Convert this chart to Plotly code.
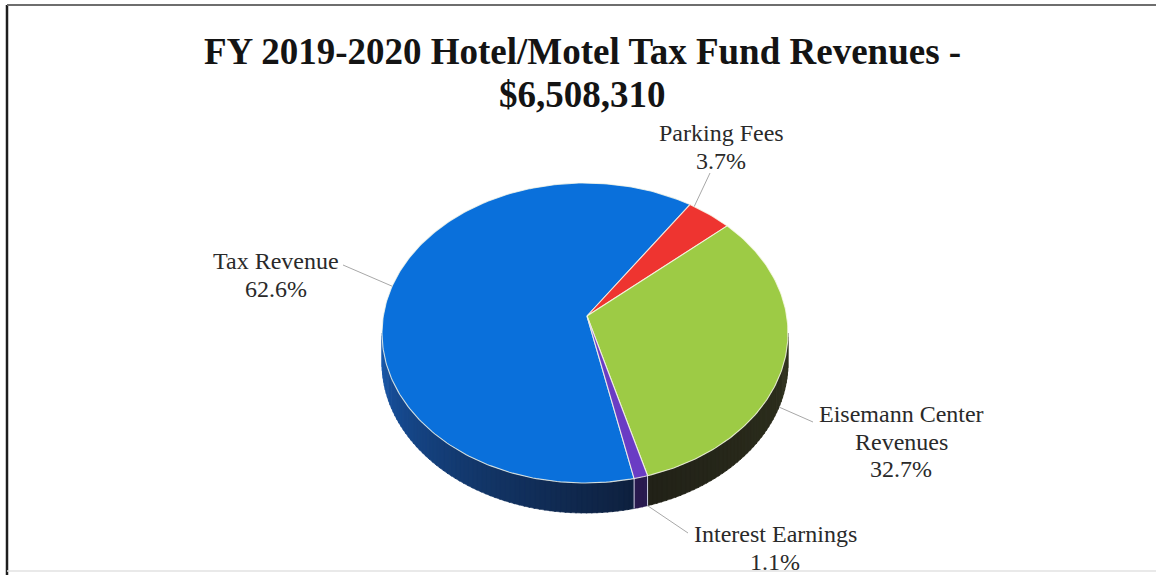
import numpy as np
import plotly.graph_objects as go

# ---- data ----
categories = ["Tax Revenue", "Parking Fees", "Eisemann Center Revenues", "Interest Earnings"]
percent = [62.6, 3.7, 32.7, 1.1]
title_line1 = "FY 2019-2020 Hotel/Motel Tax Fund Revenues -"
title_line2 = "$6,508,310"

# ---- styling ----
top_colors = ["#0a70db", "#ee3430", "#9dcb45", "#6a3cc4"]
# side shading: (colour near the lit end, colour near the shaded end)
side_colors = [
    ((26, 92, 178), (14, 32, 62)),
    ((150, 30, 28), (110, 20, 18)),
    ((50, 52, 31), (32, 32, 23)),
    ((52, 34, 100), (40, 26, 78)),
]
# how each category name wraps in its label
label_wrap = [["Tax Revenue"], ["Parking Fees"], ["Eisemann Center", "Revenues"], ["Interest Earnings"]]
label_x = [276, 721, 901, 775]
label_top = [261, 133, 414, 534]   # centre of first text line
LINE_GAP = 27.5
leader_start = [(343, 265), (710, 173), (813, 422), (688, 533)]

W, H = 1156, 575
CX, CY = 585, 333          # ellipse centre of the top face
RX, RY = 203, 150          # ellipse radii
DEPTH = 30                 # thickness of the pie
APEX = (587, 316)          # projected centre of the pie
START = 166                # angle of first slice, clockwise from 12 o'clock
SERIF = "Liberation Serif, Times New Roman, serif"


def edge(a, drop=0.0):
    r = np.radians(a)
    return CX + RX * np.sin(r), CY - RY * np.cos(r) + drop


def outline_point(a):
    """Visible outer edge: bottom rim on the front half, top rim at the back."""
    front = 90 < (a % 360) < 270
    return edge(a, DEPTH if front else 0)


def lerp(c1, c2, t):
    return "rgb({},{},{})".format(*[int(round(p + (q - p) * t)) for p, q in zip(c1, c2)])


total = sum(percent)
bounds = [START]
for v in percent:
    bounds.append(bounds[-1] + 360.0 * v / total)

fig = go.Figure()

# ---- front side walls (visible between 3 o'clock and 9 o'clock) ----
for i in range(len(percent)):
    a1, a2 = bounds[i], bounds[i + 1]
    for off in (0, 360):
        lo, hi = max(a1, 90 + off), min(a2, 270 + off)
        if hi <= lo:
            continue
        n = max(2, int(np.ceil((hi - lo) / 1.5)) + 1)
        angs = np.linspace(lo, hi, n)
        for k in range(n - 1):
            s, e = angs[k], min(angs[k + 1] + 0.4, hi)
            mid = 0.5 * (s + e) - off
            # lit from the left: 270 deg brightest, 90 deg darkest
            if i == 0:
                t = (270 - mid) / (270 - 166)
            else:
                t = (mid - 90) / 80.0
            t = float(np.clip(t, 0, 1)) ** 0.8
            col = lerp(side_colors[i][0], side_colors[i][1], t)
            arc = np.linspace(s, e, 4)
            tx, ty = edge(arc)
            bx, by = edge(arc[::-1], DEPTH)
            fig.add_trace(go.Scatter(
                x=list(tx) + list(bx) + [tx[0]],
                y=list(ty) + list(by) + [ty[0]],
                mode="lines", fill="toself", fillcolor=col,
                line=dict(color=col, width=0.6), hoverinfo="skip", showlegend=False))

# light seams on the side wall at slice boundaries
for b in bounds[1:]:
    bb = b % 360
    if 90 < bb < 270:
        x0, y0 = edge(bb)
        x1, y1 = edge(bb, DEPTH)
        fig.add_trace(go.Scatter(x=[x0, x1], y=[y0, y1], mode="lines",
                                 line=dict(color="rgba(235,240,255,0.85)", width=1),
                                 hoverinfo="skip", showlegend=False))

# ---- top face slices ----
for i, name in enumerate(categories):
    a1, a2 = bounds[i], bounds[i + 1]
    n = max(3, int((a2 - a1) / 1.0) + 2)
    ex, ey = edge(np.linspace(a1, a2, n))
    fig.add_trace(go.Scatter(
        x=[APEX[0]] + list(ex) + [APEX[0]],
        y=[APEX[1]] + list(ey) + [APEX[1]],
        mode="lines", fill="toself", fillcolor=top_colors[i],
        line=dict(color="rgba(250,250,235,0.8)", width=1.1),
        name=name, hoverinfo="name", showlegend=False))

# ---- labels and leader lines ----
annotations = []
for i, name in enumerate(categories):
    sx, sy = leader_start[i]
    # leader attaches to the nearest point of the slice's visible rim
    cand = np.linspace(bounds[i], bounds[i + 1], 200)
    pts = [outline_point(a) for a in cand]
    px, py = min(pts, key=lambda p: (p[0] - sx) ** 2 + (p[1] - sy) ** 2)
    fig.add_trace(go.Scatter(x=[sx, px], y=[sy, py], mode="lines",
                             line=dict(color="#a8a8a8", width=1),
                             hoverinfo="skip", showlegend=False))
    lines = label_wrap[i] + [f"{percent[i]:.1f}%"]
    for j, txt in enumerate(lines):
        annotations.append(dict(
            x=label_x[i], y=label_top[i] + j * LINE_GAP, xref="x", yref="y",
            text=txt, showarrow=False, xanchor="center", yanchor="middle",
            font=dict(family=SERIF, size=24, color="#2a2a2a")))

annotations.append(dict(x=582, y=51, xref="x", yref="y", text=f"<b>{title_line1}</b>",
                        showarrow=False, xanchor="center", yanchor="middle",
                        font=dict(family=SERIF, size=37, color="#141414")))
annotations.append(dict(x=582, y=94, xref="x", yref="y", text=f"<b>{title_line2}</b>",
                        showarrow=False, xanchor="center", yanchor="middle",
                        font=dict(family=SERIF, size=37, color="#141414")))

# ---- frame ----
shapes = [
    dict(type="line", xref="x", yref="y", x0=7, x1=7, y0=5, y1=H, line=dict(color="#1e1e1e", width=2.5)),
    dict(type="line", xref="x", yref="y", x0=7, x1=W, y0=5, y1=5, line=dict(color="#6e6e6e", width=2)),
    dict(type="line", xref="x", yref="y", x0=7, x1=W, y0=571, y1=571, line=dict(color="#e2e2e2", width=1.5)),
]

fig.update_layout(
    width=W, height=H,
    margin=dict(l=0, r=0, t=0, b=0),
    paper_bgcolor="white", plot_bgcolor="white",
    xaxis=dict(range=[0, W], visible=False, fixedrange=True),
    yaxis=dict(range=[H, 0], visible=False, fixedrange=True),
    annotations=annotations, shapes=shapes, showlegend=False,
)

fig.write_html("out.html")
